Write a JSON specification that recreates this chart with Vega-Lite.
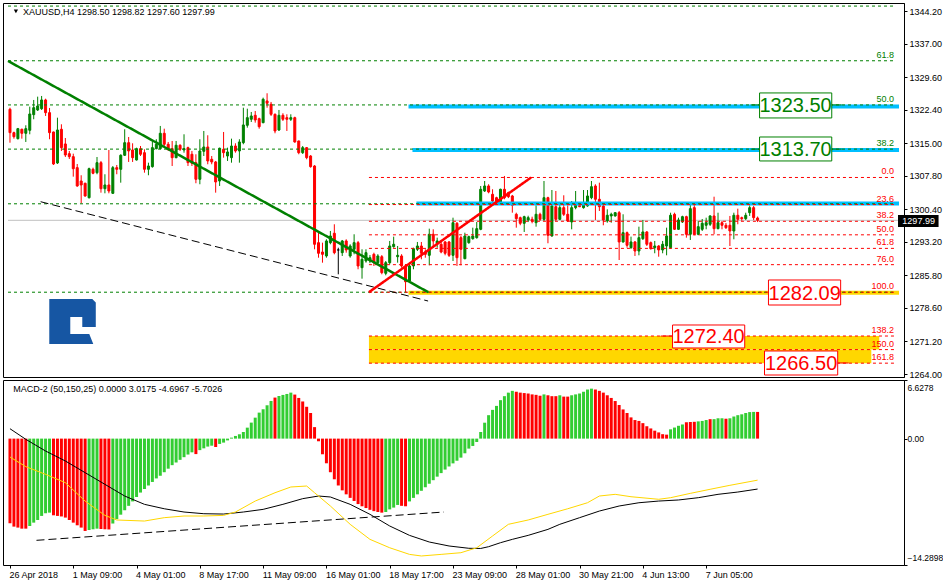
{
"$schema":"https://vega.github.io/schema/vega-lite/v6.json",
"padding":{"left":2,"top":2,"right":0,"bottom":0},
"background":"white",
"spacing":3,
"bounds":"flush",
"config":{"view":{"stroke":"black","strokeWidth":1},"font":"Liberation Sans","axis":{"labelFont":"Liberation Sans","labelFontSize":9,"labelColor":"black","tickColor":"black","domainColor":"black","grid":false,"tickSize":3}},
"datasets":{
"candles":[
{"i":0,"open":1322.54,"high":1322.89,"low":1315.15,"close":1317.37},
{"i":1,"open":1317.37,"high":1317.59,"low":1316.04,"close":1316.48},
{"i":2,"open":1316.04,"high":1318.41,"low":1315.86,"close":1318.25},
{"i":3,"open":1318.12,"high":1318.25,"low":1316.04,"close":1317.23},
{"i":4,"open":1317.23,"high":1319.00,"low":1315.31,"close":1318.25},
{"i":5,"open":1317.90,"high":1323.12,"low":1317.01,"close":1321.50},
{"i":6,"open":1321.35,"high":1324.60,"low":1320.33,"close":1322.89},
{"i":7,"open":1322.39,"high":1325.33,"low":1322.16,"close":1323.27},
{"i":8,"open":1322.67,"high":1325.48,"low":1322.39,"close":1324.60},
{"i":9,"open":1324.60,"high":1324.88,"low":1321.06,"close":1321.79},
{"i":10,"open":1321.79,"high":1322.83,"low":1315.91,"close":1317.37},
{"i":11,"open":1317.52,"high":1317.60,"low":1310.22,"close":1310.44},
{"i":12,"open":1310.67,"high":1320.68,"low":1310.44,"close":1317.96},
{"i":13,"open":1318.12,"high":1319.22,"low":1313.32,"close":1314.05},
{"i":14,"open":1314.87,"high":1316.19,"low":1311.99,"close":1312.43},
{"i":15,"open":1312.72,"high":1313.32,"low":1311.55,"close":1312.06},
{"i":16,"open":1312.06,"high":1312.72,"low":1307.64,"close":1309.40},
{"i":17,"open":1309.63,"high":1310.44,"low":1305.40,"close":1305.58},
{"i":18,"open":1306.68,"high":1307.95,"low":1301.75,"close":1305.80},
{"i":19,"open":1306.18,"high":1306.30,"low":1303.20,"close":1303.37},
{"i":20,"open":1302.99,"high":1309.63,"low":1302.80,"close":1309.40},
{"i":21,"open":1309.27,"high":1309.63,"low":1308.17,"close":1308.39},
{"i":22,"open":1308.52,"high":1311.99,"low":1308.17,"close":1310.73},
{"i":23,"open":1310.73,"high":1311.11,"low":1304.10,"close":1304.98},
{"i":24,"open":1304.98,"high":1308.17,"low":1303.96,"close":1305.80},
{"i":25,"open":1305.80,"high":1313.54,"low":1303.96,"close":1304.47},
{"i":26,"open":1303.96,"high":1310.00,"low":1303.80,"close":1309.63},
{"i":27,"open":1309.63,"high":1310.22,"low":1308.17,"close":1309.27},
{"i":28,"open":1309.27,"high":1312.59,"low":1306.31,"close":1312.37},
{"i":29,"open":1312.37,"high":1318.12,"low":1312.21,"close":1315.15},
{"i":30,"open":1315.15,"high":1316.41,"low":1310.89,"close":1313.32},
{"i":31,"open":1313.54,"high":1315.02,"low":1310.89,"close":1311.84},
{"i":32,"open":1311.33,"high":1314.05,"low":1311.20,"close":1313.83},
{"i":33,"open":1313.83,"high":1314.42,"low":1312.21,"close":1312.59},
{"i":34,"open":1312.94,"high":1313.69,"low":1308.52,"close":1309.27},
{"i":35,"open":1309.27,"high":1310.73,"low":1307.95,"close":1310.00},
{"i":36,"open":1309.85,"high":1315.53,"low":1309.63,"close":1314.05},
{"i":37,"open":1313.83,"high":1315.91,"low":1313.69,"close":1314.80},
{"i":38,"open":1313.83,"high":1318.85,"low":1313.69,"close":1317.23},
{"i":39,"open":1317.23,"high":1318.25,"low":1314.05,"close":1314.80},
{"i":40,"open":1314.80,"high":1315.31,"low":1313.32,"close":1313.69},
{"i":41,"open":1313.83,"high":1315.53,"low":1310.00,"close":1311.84},
{"i":42,"open":1311.84,"high":1315.53,"low":1311.70,"close":1314.58},
{"i":43,"open":1314.58,"high":1314.80,"low":1313.32,"close":1313.69},
{"i":44,"open":1313.54,"high":1317.01,"low":1312.94,"close":1313.83},
{"i":45,"open":1314.05,"high":1314.27,"low":1310.00,"close":1310.73},
{"i":46,"open":1312.59,"high":1313.32,"low":1310.00,"close":1310.60},
{"i":47,"open":1310.73,"high":1312.59,"low":1306.18,"close":1307.06},
{"i":48,"open":1307.06,"high":1315.91,"low":1305.96,"close":1313.32},
{"i":49,"open":1313.25,"high":1317.74,"low":1312.21,"close":1314.20},
{"i":50,"open":1314.20,"high":1316.79,"low":1310.38,"close":1311.11},
{"i":51,"open":1311.48,"high":1312.21,"low":1310.38,"close":1310.89},
{"i":52,"open":1310.89,"high":1311.11,"low":1304.10,"close":1306.46},
{"i":53,"open":1306.68,"high":1314.05,"low":1305.58,"close":1313.92},
{"i":54,"open":1313.69,"high":1317.52,"low":1311.84,"close":1312.94},
{"i":55,"open":1312.21,"high":1314.05,"low":1311.11,"close":1313.10},
{"i":56,"open":1311.84,"high":1316.04,"low":1310.73,"close":1314.42},
{"i":57,"open":1314.42,"high":1315.02,"low":1312.94,"close":1313.32},
{"i":58,"open":1313.32,"high":1315.91,"low":1310.73,"close":1315.31},
{"i":59,"open":1315.15,"high":1322.89,"low":1314.80,"close":1319.07},
{"i":60,"open":1319.00,"high":1322.67,"low":1318.47,"close":1320.68},
{"i":61,"open":1320.33,"high":1321.94,"low":1319.73,"close":1321.06},
{"i":62,"open":1321.21,"high":1322.16,"low":1319.58,"close":1320.17},
{"i":63,"open":1320.46,"high":1320.68,"low":1318.25,"close":1318.69},
{"i":64,"open":1319.58,"high":1325.11,"low":1319.44,"close":1324.75},
{"i":65,"open":1324.38,"high":1326.08,"low":1322.89,"close":1323.87},
{"i":66,"open":1323.65,"high":1324.16,"low":1321.06,"close":1321.43},
{"i":67,"open":1321.43,"high":1321.60,"low":1317.23,"close":1317.74},
{"i":68,"open":1317.96,"high":1322.39,"low":1317.74,"close":1321.21},
{"i":69,"open":1321.21,"high":1321.66,"low":1319.95,"close":1320.33},
{"i":70,"open":1320.68,"high":1321.43,"low":1317.74,"close":1320.33},
{"i":71,"open":1320.33,"high":1321.43,"low":1319.95,"close":1320.68},
{"i":72,"open":1320.68,"high":1320.90,"low":1315.15,"close":1315.31},
{"i":73,"open":1315.53,"high":1315.60,"low":1312.59,"close":1312.94},
{"i":74,"open":1312.94,"high":1314.42,"low":1312.66,"close":1314.05},
{"i":75,"open":1314.05,"high":1314.20,"low":1311.48,"close":1311.84},
{"i":76,"open":1312.21,"high":1312.40,"low":1309.63,"close":1309.85},
{"i":77,"open":1310.00,"high":1310.20,"low":1291.58,"close":1292.69},
{"i":78,"open":1293.04,"high":1295.25,"low":1289.72,"close":1290.70},
{"i":79,"open":1290.98,"high":1293.04,"low":1288.62,"close":1290.47},
{"i":80,"open":1290.10,"high":1293.79,"low":1289.72,"close":1293.42},
{"i":81,"open":1293.04,"high":1295.63,"low":1292.69,"close":1294.52},
{"i":82,"open":1295.12,"high":1297.11,"low":1290.47,"close":1290.83},
{"i":83,"open":1291.43,"high":1291.93,"low":1286.05,"close":1291.43},
{"i":84,"open":1290.83,"high":1293.64,"low":1290.10,"close":1293.42},
{"i":85,"open":1293.42,"high":1293.79,"low":1290.83,"close":1291.43},
{"i":86,"open":1290.10,"high":1292.69,"low":1289.72,"close":1292.31},
{"i":87,"open":1291.58,"high":1294.90,"low":1290.47,"close":1293.04},
{"i":88,"open":1293.04,"high":1293.42,"low":1287.16,"close":1287.89},
{"i":89,"open":1287.51,"high":1291.58,"low":1285.08,"close":1289.37},
{"i":90,"open":1288.99,"high":1291.58,"low":1288.62,"close":1290.83},
{"i":91,"open":1288.99,"high":1290.30,"low":1288.50,"close":1289.72},
{"i":92,"open":1290.47,"high":1290.83,"low":1287.89,"close":1288.62},
{"i":93,"open":1288.62,"high":1290.50,"low":1288.30,"close":1290.10},
{"i":94,"open":1289.94,"high":1290.30,"low":1286.05,"close":1286.41},
{"i":95,"open":1286.27,"high":1288.99,"low":1285.83,"close":1288.62},
{"i":96,"open":1288.62,"high":1293.42,"low":1288.26,"close":1292.31},
{"i":97,"open":1292.16,"high":1294.37,"low":1291.93,"close":1292.69},
{"i":98,"open":1289.94,"high":1292.31,"low":1288.62,"close":1290.25},
{"i":99,"open":1290.10,"high":1290.50,"low":1287.51,"close":1287.89},
{"i":100,"open":1287.89,"high":1288.30,"low":1282.09,"close":1284.40},
{"i":101,"open":1284.57,"high":1288.62,"low":1284.20,"close":1287.89},
{"i":102,"open":1287.89,"high":1291.93,"low":1287.16,"close":1291.71},
{"i":103,"open":1291.58,"high":1293.20,"low":1291.20,"close":1292.31},
{"i":104,"open":1292.31,"high":1293.20,"low":1289.37,"close":1290.70},
{"i":105,"open":1290.98,"high":1291.58,"low":1289.72,"close":1290.47},
{"i":106,"open":1290.25,"high":1296.14,"low":1288.04,"close":1294.90},
{"i":107,"open":1294.90,"high":1296.00,"low":1291.93,"close":1293.42},
{"i":108,"open":1292.91,"high":1294.15,"low":1291.93,"close":1293.42},
{"i":109,"open":1292.69,"high":1293.42,"low":1290.70,"close":1290.98},
{"i":110,"open":1293.20,"high":1293.42,"low":1290.25,"close":1290.70},
{"i":111,"open":1293.20,"high":1293.42,"low":1289.88,"close":1290.25},
{"i":112,"open":1290.25,"high":1298.57,"low":1288.99,"close":1297.46},
{"i":113,"open":1297.33,"high":1297.62,"low":1287.89,"close":1289.72},
{"i":114,"open":1294.15,"high":1294.52,"low":1288.04,"close":1291.58},
{"i":115,"open":1289.50,"high":1295.25,"low":1289.37,"close":1294.52},
{"i":116,"open":1293.04,"high":1294.60,"low":1292.80,"close":1294.37},
{"i":117,"open":1293.93,"high":1296.36,"low":1293.70,"close":1294.52},
{"i":118,"open":1294.15,"high":1297.62,"low":1293.93,"close":1296.14},
{"i":119,"open":1296.00,"high":1305.58,"low":1295.80,"close":1304.85},
{"i":120,"open":1304.47,"high":1306.68,"low":1304.25,"close":1305.58},
{"i":121,"open":1305.58,"high":1305.96,"low":1303.96,"close":1304.25},
{"i":122,"open":1303.74,"high":1304.85,"low":1301.88,"close":1302.26},
{"i":123,"open":1302.99,"high":1303.20,"low":1301.80,"close":1302.04},
{"i":124,"open":1302.04,"high":1304.98,"low":1301.88,"close":1304.85},
{"i":125,"open":1304.85,"high":1307.79,"low":1302.64,"close":1302.99},
{"i":126,"open":1304.10,"high":1304.30,"low":1302.90,"close":1303.21},
{"i":127,"open":1303.37,"high":1303.60,"low":1299.67,"close":1301.31},
{"i":128,"open":1299.32,"high":1299.67,"low":1296.36,"close":1298.35},
{"i":129,"open":1298.57,"high":1298.80,"low":1296.90,"close":1297.33},
{"i":130,"open":1297.33,"high":1299.00,"low":1295.41,"close":1298.79},
{"i":131,"open":1298.06,"high":1299.00,"low":1297.60,"close":1298.57},
{"i":132,"open":1298.21,"high":1298.79,"low":1297.33,"close":1297.84},
{"i":133,"open":1297.46,"high":1301.31,"low":1296.58,"close":1299.32},
{"i":134,"open":1299.32,"high":1299.67,"low":1297.84,"close":1298.21},
{"i":135,"open":1298.21,"high":1306.68,"low":1297.84,"close":1302.99},
{"i":136,"open":1302.99,"high":1303.20,"low":1292.91,"close":1294.68},
{"i":137,"open":1294.52,"high":1304.69,"low":1294.37,"close":1301.16},
{"i":138,"open":1301.00,"high":1304.47,"low":1297.84,"close":1298.21},
{"i":139,"open":1298.21,"high":1301.88,"low":1298.06,"close":1300.78},
{"i":140,"open":1300.78,"high":1303.52,"low":1298.95,"close":1299.32},
{"i":141,"open":1299.32,"high":1301.31,"low":1297.62,"close":1297.84},
{"i":142,"open":1297.62,"high":1302.26,"low":1296.00,"close":1300.78},
{"i":143,"open":1300.78,"high":1304.47,"low":1300.42,"close":1301.53},
{"i":144,"open":1301.31,"high":1301.60,"low":1300.90,"close":1301.00},
{"i":145,"open":1300.78,"high":1304.69,"low":1300.56,"close":1301.88},
{"i":146,"open":1301.16,"high":1304.69,"low":1301.00,"close":1303.37},
{"i":147,"open":1302.99,"high":1306.68,"low":1302.64,"close":1305.42},
{"i":148,"open":1305.58,"high":1305.96,"low":1298.06,"close":1302.64},
{"i":149,"open":1302.64,"high":1306.31,"low":1300.05,"close":1301.00},
{"i":150,"open":1301.16,"high":1301.75,"low":1296.89,"close":1298.06},
{"i":151,"open":1297.84,"high":1300.42,"low":1297.46,"close":1299.10},
{"i":152,"open":1298.95,"high":1299.67,"low":1297.46,"close":1299.32},
{"i":153,"open":1298.95,"high":1299.80,"low":1298.80,"close":1299.67},
{"i":154,"open":1299.67,"high":1300.05,"low":1289.21,"close":1293.20},
{"i":155,"open":1293.20,"high":1299.32,"low":1293.04,"close":1295.25},
{"i":156,"open":1295.25,"high":1295.50,"low":1291.93,"close":1292.46},
{"i":157,"open":1291.93,"high":1294.37,"low":1291.71,"close":1293.20},
{"i":158,"open":1293.20,"high":1293.40,"low":1290.10,"close":1291.20},
{"i":159,"open":1291.20,"high":1296.58,"low":1290.25,"close":1294.15},
{"i":160,"open":1293.93,"high":1298.06,"low":1293.64,"close":1295.41},
{"i":161,"open":1295.41,"high":1295.60,"low":1292.31,"close":1292.69},
{"i":162,"open":1293.04,"high":1293.30,"low":1291.50,"close":1291.71},
{"i":163,"open":1291.93,"high":1293.42,"low":1290.70,"close":1292.31},
{"i":164,"open":1292.31,"high":1292.50,"low":1289.94,"close":1291.43},
{"i":165,"open":1291.43,"high":1293.42,"low":1290.70,"close":1292.69},
{"i":166,"open":1292.31,"high":1296.36,"low":1290.25,"close":1294.52},
{"i":167,"open":1291.93,"high":1299.67,"low":1291.70,"close":1299.10},
{"i":168,"open":1299.32,"high":1299.67,"low":1295.85,"close":1296.00},
{"i":169,"open":1296.00,"high":1298.57,"low":1295.85,"close":1298.06},
{"i":170,"open":1297.62,"high":1299.00,"low":1297.40,"close":1298.79},
{"i":171,"open":1298.79,"high":1299.00,"low":1294.15,"close":1294.90},
{"i":172,"open":1294.90,"high":1301.53,"low":1293.64,"close":1300.56},
{"i":173,"open":1300.78,"high":1301.88,"low":1294.68,"close":1294.90},
{"i":174,"open":1294.90,"high":1297.84,"low":1294.68,"close":1296.58},
{"i":175,"open":1296.00,"high":1298.28,"low":1295.63,"close":1297.33},
{"i":176,"open":1296.89,"high":1298.57,"low":1296.00,"close":1297.46},
{"i":177,"open":1297.11,"high":1299.10,"low":1296.73,"close":1298.95},
{"i":178,"open":1298.95,"high":1303.21,"low":1294.90,"close":1296.14},
{"i":179,"open":1296.14,"high":1299.67,"low":1296.00,"close":1297.46},
{"i":180,"open":1297.46,"high":1297.84,"low":1296.00,"close":1296.89},
{"i":181,"open":1296.89,"high":1297.40,"low":1296.06,"close":1296.36},
{"i":182,"open":1296.89,"high":1298.95,"low":1292.31,"close":1295.63},
{"i":183,"open":1295.63,"high":1299.67,"low":1293.79,"close":1299.10},
{"i":184,"open":1299.10,"high":1300.56,"low":1297.11,"close":1298.21},
{"i":185,"open":1298.57,"high":1298.80,"low":1297.90,"close":1298.35},
{"i":186,"open":1298.35,"high":1299.67,"low":1298.06,"close":1299.10},
{"i":187,"open":1299.67,"high":1301.31,"low":1298.95,"close":1300.78},
{"i":188,"open":1300.78,"high":1301.16,"low":1298.06,"close":1298.57},
{"i":189,"open":1298.50,"high":1298.82,"low":1297.60,"close":1297.99}
],
"macd":[
{"i":0,"h":-9.57,"dir":"down"},{"i":1,"h":-9.95,"dir":"down"},{"i":2,"h":-10.06,"dir":"down"},{"i":3,"h":-10.18,"dir":"down"},{"i":4,"h":-10.18,"dir":"down"},
{"i":5,"h":-9.88,"dir":"up"},{"i":6,"h":-9.5,"dir":"up"},{"i":7,"h":-9.2,"dir":"up"},{"i":8,"h":-8.74,"dir":"up"},{"i":9,"h":-8.44,"dir":"up"},{"i":10,"h":-8.37,"dir":"up"},
{"i":11,"h":-8.67,"dir":"down"},{"i":12,"h":-8.74,"dir":"down"},{"i":13,"h":-8.8,"dir":"down"},{"i":14,"h":-8.93,"dir":"down"},{"i":15,"h":-9.2,"dir":"down"},{"i":16,"h":-9.5,"dir":"down"},{"i":17,"h":-9.8,"dir":"down"},{"i":18,"h":-10.06,"dir":"down"},{"i":19,"h":-10.44,"dir":"down"},
{"i":20,"h":-10.33,"dir":"up"},{"i":21,"h":-10.25,"dir":"up"},{"i":22,"h":-10.18,"dir":"up"},
{"i":23,"h":-10.22,"dir":"down"},{"i":24,"h":-10.25,"dir":"down"},{"i":25,"h":-10.27,"dir":"down"},
{"i":26,"h":-9.6,"dir":"up"},{"i":27,"h":-9.1,"dir":"up"},{"i":28,"h":-8.6,"dir":"up"},{"i":29,"h":-8.1,"dir":"up"},{"i":30,"h":-7.6,"dir":"up"},{"i":31,"h":-7.1,"dir":"up"},{"i":32,"h":-6.6,"dir":"up"},{"i":33,"h":-6.1,"dir":"up"},{"i":34,"h":-5.7,"dir":"up"},{"i":35,"h":-5.3,"dir":"up"},{"i":36,"h":-4.9,"dir":"up"},{"i":37,"h":-4.5,"dir":"up"},{"i":38,"h":-4.2,"dir":"up"},{"i":39,"h":-3.8,"dir":"up"},{"i":40,"h":-3.4,"dir":"up"},{"i":41,"h":-3.0,"dir":"up"},{"i":42,"h":-2.7,"dir":"up"},{"i":43,"h":-2.4,"dir":"up"},{"i":44,"h":-2.1,"dir":"up"},{"i":45,"h":-1.8,"dir":"up"},{"i":46,"h":-1.55,"dir":"up"},
{"i":47,"h":-1.75,"dir":"down"},{"i":48,"h":-1.3,"dir":"up"},{"i":49,"h":-1.1,"dir":"up"},{"i":50,"h":-0.9,"dir":"up"},{"i":51,"h":-0.8,"dir":"up"},{"i":52,"h":-0.95,"dir":"down"},{"i":53,"h":-0.6,"dir":"up"},{"i":54,"h":-0.45,"dir":"up"},{"i":55,"h":-0.2,"dir":"up"},
{"i":56,"h":0.11,"dir":"up"},{"i":57,"h":0.3,"dir":"up"},{"i":58,"h":0.49,"dir":"up"},{"i":59,"h":0.75,"dir":"up"},{"i":60,"h":1.24,"dir":"up"},{"i":61,"h":1.81,"dir":"up"},{"i":62,"h":2.37,"dir":"up"},{"i":63,"h":2.94,"dir":"up"},{"i":64,"h":3.32,"dir":"up"},{"i":65,"h":3.77,"dir":"up"},{"i":66,"h":4.26,"dir":"up"},
{"i":67,"h":4.64,"dir":"down"},{"i":68,"h":4.82,"dir":"up"},{"i":69,"h":4.94,"dir":"up"},{"i":70,"h":5.05,"dir":"up"},{"i":71,"h":5.2,"dir":"up"},
{"i":72,"h":4.98,"dir":"down"},{"i":73,"h":4.6,"dir":"down"},{"i":74,"h":4.2,"dir":"down"},{"i":75,"h":3.6,"dir":"down"},{"i":76,"h":2.9,"dir":"down"},{"i":77,"h":1.3,"dir":"down"},{"i":78,"h":-0.3,"dir":"down"},{"i":79,"h":-1.77,"dir":"down"},{"i":80,"h":-2.79,"dir":"down"},{"i":81,"h":-3.8,"dir":"down"},{"i":82,"h":-4.6,"dir":"down"},{"i":83,"h":-5.3,"dir":"down"},{"i":84,"h":-5.85,"dir":"down"},{"i":85,"h":-6.3,"dir":"down"},{"i":86,"h":-6.7,"dir":"down"},{"i":87,"h":-7.05,"dir":"down"},{"i":88,"h":-7.4,"dir":"down"},{"i":89,"h":-7.65,"dir":"down"},{"i":90,"h":-7.85,"dir":"down"},{"i":91,"h":-8.05,"dir":"down"},{"i":92,"h":-8.2,"dir":"down"},{"i":93,"h":-8.3,"dir":"down"},{"i":94,"h":-8.37,"dir":"down"},
{"i":95,"h":-8.3,"dir":"up"},{"i":96,"h":-8.0,"dir":"up"},{"i":97,"h":-7.8,"dir":"up"},{"i":98,"h":-7.5,"dir":"up"},{"i":99,"h":-7.6,"dir":"down"},{"i":100,"h":-7.65,"dir":"down"},
{"i":101,"h":-7.1,"dir":"up"},{"i":102,"h":-6.7,"dir":"up"},{"i":103,"h":-6.3,"dir":"up"},{"i":104,"h":-5.9,"dir":"up"},{"i":105,"h":-5.5,"dir":"up"},{"i":106,"h":-5.1,"dir":"up"},{"i":107,"h":-4.7,"dir":"up"},{"i":108,"h":-4.3,"dir":"up"},{"i":109,"h":-3.9,"dir":"up"},{"i":110,"h":-3.5,"dir":"up"},{"i":111,"h":-3.15,"dir":"up"},{"i":112,"h":-2.8,"dir":"up"},{"i":113,"h":-2.5,"dir":"up"},{"i":114,"h":-2.15,"dir":"up"},{"i":115,"h":-1.66,"dir":"up"},{"i":116,"h":-1.13,"dir":"up"},{"i":117,"h":-0.83,"dir":"up"},{"i":118,"h":-0.38,"dir":"up"},
{"i":119,"h":0.75,"dir":"up"},{"i":120,"h":1.8,"dir":"up"},{"i":121,"h":2.65,"dir":"up"},{"i":122,"h":3.25,"dir":"up"},{"i":123,"h":3.7,"dir":"up"},{"i":124,"h":4.35,"dir":"up"},{"i":125,"h":4.8,"dir":"up"},{"i":126,"h":5.2,"dir":"up"},{"i":127,"h":5.4,"dir":"up"},
{"i":128,"h":5.3,"dir":"down"},{"i":129,"h":5.2,"dir":"down"},{"i":130,"h":5.15,"dir":"down"},{"i":131,"h":5.1,"dir":"down"},{"i":132,"h":5.0,"dir":"down"},{"i":133,"h":4.95,"dir":"down"},{"i":134,"h":4.85,"dir":"down"},{"i":135,"h":5.0,"dir":"up"},{"i":136,"h":4.9,"dir":"down"},{"i":137,"h":4.8,"dir":"down"},{"i":138,"h":4.8,"dir":"down"},{"i":139,"h":4.9,"dir":"up"},{"i":140,"h":4.75,"dir":"down"},{"i":141,"h":4.75,"dir":"down"},
{"i":142,"h":4.9,"dir":"up"},{"i":143,"h":5.0,"dir":"up"},{"i":144,"h":5.1,"dir":"up"},{"i":145,"h":5.3,"dir":"up"},{"i":146,"h":5.55,"dir":"up"},{"i":147,"h":5.65,"dir":"up"},
{"i":148,"h":5.55,"dir":"down"},{"i":149,"h":5.4,"dir":"down"},{"i":150,"h":5.2,"dir":"down"},{"i":151,"h":4.9,"dir":"down"},{"i":152,"h":4.6,"dir":"down"},{"i":153,"h":4.25,"dir":"down"},{"i":154,"h":3.8,"dir":"down"},{"i":155,"h":3.3,"dir":"down"},{"i":156,"h":2.9,"dir":"down"},{"i":157,"h":2.4,"dir":"down"},{"i":158,"h":2.1,"dir":"down"},{"i":159,"h":2.0,"dir":"down"},{"i":160,"h":1.75,"dir":"down"},{"i":161,"h":1.4,"dir":"down"},{"i":162,"h":1.15,"dir":"down"},{"i":163,"h":0.9,"dir":"down"},{"i":164,"h":0.7,"dir":"down"},{"i":165,"h":0.5,"dir":"down"},{"i":166,"h":0.45,"dir":"down"},
{"i":167,"h":1.05,"dir":"up"},{"i":168,"h":1.25,"dir":"up"},{"i":169,"h":1.45,"dir":"up"},{"i":170,"h":1.6,"dir":"up"},{"i":171,"h":1.85,"dir":"down"},{"i":172,"h":1.88,"dir":"down"},{"i":173,"h":1.9,"dir":"down"},{"i":174,"h":1.95,"dir":"up"},{"i":175,"h":2.0,"dir":"up"},{"i":176,"h":2.1,"dir":"up"},{"i":177,"h":2.2,"dir":"down"},{"i":178,"h":2.2,"dir":"up"},{"i":179,"h":2.3,"dir":"up"},{"i":180,"h":2.3,"dir":"up"},{"i":181,"h":2.25,"dir":"down"},{"i":182,"h":2.3,"dir":"up"},{"i":183,"h":2.5,"dir":"up"},{"i":184,"h":2.65,"dir":"up"},{"i":185,"h":2.75,"dir":"up"},{"i":186,"h":2.9,"dir":"up"},{"i":187,"h":3.0,"dir":"up"},{"i":188,"h":3.02,"dir":"up"},{"i":189,"h":3.0175,"dir":"down"}
],
"macdLine":[
{"i":0,"v":1.12},{"i":4,"v":-0.08},{"i":9,"v":-1.4},{"i":14,"v":-2.53},{"i":19,"v":-3.85},{"i":24,"v":-5.17},{"i":29,"v":-6.49},{"i":34,"v":-7.43},{"i":39,"v":-7.93},{"i":44,"v":-8.3},{"i":49,"v":-8.49},{"i":54,"v":-8.53},{"i":59,"v":-8.3},{"i":64,"v":-8.0},{"i":69,"v":-7.43},{"i":74,"v":-6.79},{"i":78,"v":-6.49},{"i":81,"v":-6.6},{"i":86,"v":-7.43},{"i":91,"v":-8.56},{"i":96,"v":-9.88},{"i":101,"v":-10.94},{"i":106,"v":-11.69},{"i":111,"v":-12.14},{"i":116,"v":-12.4},{"i":119,"v":-12.42},{"i":121,"v":-12.22},{"i":124,"v":-11.77},{"i":127,"v":-11.39},{"i":131,"v":-10.94},{"i":136,"v":-10.26},{"i":139,"v":-9.69},{"i":144,"v":-8.94},{"i":149,"v":-8.19},{"i":154,"v":-7.62},{"i":159,"v":-7.25},{"i":164,"v":-7.06},{"i":169,"v":-6.94},{"i":174,"v":-6.68},{"i":179,"v":-6.3},{"i":184,"v":-6.04},{"i":189,"v":-5.7026}
],
"signal":[
{"i":0,"v":-2.08},{"i":4,"v":-3.17},{"i":9,"v":-4.04},{"i":14,"v":-4.98},{"i":19,"v":-7.06},{"i":24,"v":-8.68},{"i":27,"v":-9.2},{"i":34,"v":-9.32},{"i":39,"v":-8.94},{"i":44,"v":-8.75},{"i":49,"v":-8.75},{"i":54,"v":-8.68},{"i":57,"v":-8.3},{"i":62,"v":-7.06},{"i":67,"v":-6.12},{"i":71,"v":-5.47},{"i":75,"v":-5.36},{"i":77,"v":-6.12},{"i":81,"v":-7.62},{"i":86,"v":-9.69},{"i":91,"v":-11.39},{"i":96,"v":-12.34},{"i":101,"v":-13.09},{"i":104,"v":-13.27},{"i":109,"v":-13.09},{"i":114,"v":-12.9},{"i":118,"v":-12.34},{"i":122,"v":-11.01},{"i":126,"v":-9.69},{"i":131,"v":-9.2},{"i":136,"v":-8.56},{"i":141,"v":-7.93},{"i":146,"v":-7.25},{"i":149,"v":-6.49},{"i":153,"v":-6.3},{"i":157,"v":-6.57},{"i":164,"v":-6.86},{"i":167,"v":-6.68},{"i":172,"v":-6.19},{"i":177,"v":-5.73},{"i":182,"v":-5.28},{"i":189,"v":-4.6967}
],
"levels":[
{"set":"green","level":"","price":1345.36,"x1":-0.5,"x2":223.5},
{"set":"green","level":"61.8","price":1333.27,"x1":-0.5,"x2":223.5},
{"set":"green","level":"50.0","price":1323.5,"x1":-0.5,"x2":223.5},
{"set":"green","level":"38.2","price":1313.73,"x1":-0.5,"x2":223.5},
{"set":"green","level":"","price":1301.64,"x1":-0.5,"x2":223.5},
{"set":"green","level":"","price":1282.09,"x1":-0.5,"x2":223.5},
{"set":"red","level":"0.0","price":1307.46,"x1":90.75,"x2":223.5},
{"set":"red","level":"23.6","price":1301.47,"x1":90.75,"x2":223.5},
{"set":"red","level":"38.2","price":1297.77,"x1":90.75,"x2":223.5},
{"set":"red","level":"50.0","price":1294.78,"x1":90.75,"x2":223.5},
{"set":"red","level":"61.8","price":1291.78,"x1":90.75,"x2":223.5},
{"set":"red","level":"76.0","price":1288.18,"x1":90.75,"x2":223.5},
{"set":"red","level":"100.0","price":1282.09,"x1":90.75,"x2":223.5},
{"set":"red","level":"138.2","price":1272.4,"x1":90.75,"x2":223.5},
{"set":"red","level":"150.0","price":1269.4,"x1":90.75,"x2":223.5},
{"set":"red","level":"161.8","price":1266.4,"x1":90.75,"x2":223.5}
],
"zones":[
{"x1":90.75,"x2":219.75,"p1":1269.4,"p2":1272.4},
{"x1":90.75,"x2":217.75,"p1":1266.39,"p2":1269.4}
],
"bands":[
{"kind":"blue","price":1323.15,"x1":100.75,"x2":224.75},
{"kind":"blue","price":1313.54,"x1":101.75,"x2":224.75},
{"kind":"blue","price":1301.71,"x1":102.75,"x2":224.75},
{"kind":"yellow","price":1281.95,"x1":100.75,"x2":224.75}
],
"stubs":[
{"tone":"green","price":1323.5,"x1":187.25,"x2":189.5},
{"tone":"green","price":1323.5,"x1":207.75,"x2":210.25},
{"tone":"green","price":1313.73,"x1":187.25,"x2":189.5},
{"tone":"green","price":1313.73,"x1":207.75,"x2":210.25},
{"tone":"red","price":1272.4,"x1":164.5,"x2":167.5},
{"tone":"red","price":1266.44,"x1":209.25,"x2":212.0}
],
"trends":[
{"name":"down","x1":-0.5,"p1":1333.22,"x2":105.75,"p2":1282.09},
{"name":"support","x1":7.75,"p1":1302.1,"x2":105.7,"p2":1280.14},
{"name":"up","x1":90.75,"p1":1282.09,"x2":131.75,"p2":1307.46}
],
"boxes":[
{"text":"1323.50","tone":"green","x1":189.5,"x2":207.75,"p1":1320.62,"p2":1326.15,"xc":198.6,"pc":1323.38},
{"text":"1313.70","tone":"green","x1":189.5,"x2":207.75,"p1":1311.11,"p2":1316.41,"xc":198.6,"pc":1313.76},
{"text":"1282.09","tone":"red","x1":191.75,"x2":210.0,"p1":1279.26,"p2":1284.79,"xc":200.9,"pc":1282.02},
{"text":"1272.40","tone":"red","x1":167.5,"x2":185.75,"p1":1269.76,"p2":1274.84,"xc":176.6,"pc":1272.3},
{"text":"1266.50","tone":"red","x1":190.75,"x2":209.25,"p1":1263.78,"p2":1269.09,"xc":200.0,"pc":1266.44}
]
},
"vconcat":[
{
"width":901,"height":374,
"layer":[
{"data":{"name":"zones"},"mark":{"type":"rect","fill":"#FFD700"},
 "encoding":{"x":{"field":"x1","type":"quantitative","scale":{"domain":[-0.5,224.75],"nice":false,"zero":false},"axis":null},"x2":{"field":"x2"},
 "y":{"field":"p1","type":"quantitative","scale":{"domain":[1263.34,1346.04],"nice":false,"zero":false},"axis":{"orient":"right","values":[1264.0,1271.2,1278.6,1285.8,1293.2,1300.4,1307.8,1315.0,1322.4,1329.6,1337.0,1344.2],"format":".2f","labelPadding":2,"title":null}},"y2":{"field":"p2"}}},
{"data":{"values":[{"price":1297.99,"x1":-0.5,"x2":224.75}]},"mark":{"type":"rule","color":"#C0C0C0","strokeWidth":1},
 "encoding":{"x":{"field":"x1","type":"quantitative","scale":{"domain":[-0.5,224.75],"nice":false,"zero":false},"axis":null},"x2":{"field":"x2"},
 "y":{"field":"price","type":"quantitative","scale":{"domain":[1263.34,1346.04],"nice":false,"zero":false},"axis":{"orient":"right","values":[1264.0,1271.2,1278.6,1285.8,1293.2,1300.4,1307.8,1315.0,1322.4,1329.6,1337.0,1344.2],"format":".2f","labelPadding":2,"title":null}}}},
{"data":{"values":[{"i":15.75,"p":1275.61}]},"mark":{"type":"point","filled":true,"opacity":1,"color":"#1656a3","shape":"M-1,-0.978L0.87,-0.978L1.022,-0.826L1.022,0.239L0.435,0.239L0.435,-0.196L-0.087,-0.196L-0.087,0.978L-1,0.978Z M-0.087,0.543L0.739,0.543L0.913,0.978L-0.087,0.978Z","size":2116},
 "encoding":{"x":{"field":"i","type":"quantitative","scale":{"domain":[-0.5,224.75],"nice":false,"zero":false},"axis":null},
 "y":{"field":"p","type":"quantitative","scale":{"domain":[1263.34,1346.04],"nice":false,"zero":false},"axis":{"orient":"right","values":[1264.0,1271.2,1278.6,1285.8,1293.2,1300.4,1307.8,1315.0,1322.4,1329.6,1337.0,1344.2],"format":".2f","labelPadding":2,"title":null}}}},
{"data":{"name":"candles"},"mark":{"type":"rule","strokeWidth":1},
 "encoding":{"x":{"field":"i","type":"quantitative","scale":{"domain":[-0.5,224.75],"nice":false,"zero":false},"axis":null},
 "y":{"field":"low","type":"quantitative","scale":{"domain":[1263.34,1346.04],"nice":false,"zero":false},"axis":{"orient":"right","values":[1264.0,1271.2,1278.6,1285.8,1293.2,1300.4,1307.8,1315.0,1322.4,1329.6,1337.0,1344.2],"format":".2f","labelPadding":2,"title":null}},"y2":{"field":"high"},
 "color":{"condition":[{"test":"datum.close == datum.open","value":"black"},{"test":"datum.close > datum.open","value":"#008000"}],"value":"#FF0000"}}},
{"data":{"name":"candles"},"mark":{"type":"bar","width":2,"strokeWidth":1},
 "encoding":{"x":{"field":"i","type":"quantitative","scale":{"domain":[-0.5,224.75],"nice":false,"zero":false},"axis":null},
 "y":{"field":"open","type":"quantitative","scale":{"domain":[1263.34,1346.04],"nice":false,"zero":false},"axis":{"orient":"right","values":[1264.0,1271.2,1278.6,1285.8,1293.2,1300.4,1307.8,1315.0,1322.4,1329.6,1337.0,1344.2],"format":".2f","labelPadding":2,"title":null}},"y2":{"field":"close"},
 "fill":{"condition":[{"test":"datum.close == datum.open","value":"black"},{"test":"datum.close > datum.open","value":"#008000"}],"value":"#FF0000"},
 "stroke":{"condition":[{"test":"datum.close == datum.open","value":"black"},{"test":"datum.close > datum.open","value":"#008000"}],"value":"#FF0000"}}},
{"data":{"name":"bands"},"mark":{"type":"rule","strokeWidth":4},
 "encoding":{"x":{"field":"x1","type":"quantitative","scale":{"domain":[-0.5,224.75],"nice":false,"zero":false},"axis":null},"x2":{"field":"x2"},
 "y":{"field":"price","type":"quantitative","scale":{"domain":[1263.34,1346.04],"nice":false,"zero":false},"axis":{"orient":"right","values":[1264.0,1271.2,1278.6,1285.8,1293.2,1300.4,1307.8,1315.0,1322.4,1329.6,1337.0,1344.2],"format":".2f","labelPadding":2,"title":null}},
 "color":{"condition":{"test":"datum.kind == 'blue'","value":"#00BFFF"},"value":"#FFD700"}}},
{"data":{"name":"levels"},"mark":{"type":"rule","strokeWidth":1,"strokeDash":[3,3]},
 "encoding":{"x":{"field":"x1","type":"quantitative","scale":{"domain":[-0.5,224.75],"nice":false,"zero":false},"axis":null},"x2":{"field":"x2"},
 "y":{"field":"price","type":"quantitative","scale":{"domain":[1263.34,1346.04],"nice":false,"zero":false},"axis":{"orient":"right","values":[1264.0,1271.2,1278.6,1285.8,1293.2,1300.4,1307.8,1315.0,1322.4,1329.6,1337.0,1344.2],"format":".2f","labelPadding":2,"title":null}},
 "color":{"condition":{"test":"datum.set == 'green'","value":"#008000"},"value":"#FF0000"}}},
{"data":{"name":"stubs"},"mark":{"type":"rule","strokeWidth":1},
 "encoding":{"x":{"field":"x1","type":"quantitative","scale":{"domain":[-0.5,224.75],"nice":false,"zero":false},"axis":null},"x2":{"field":"x2"},
 "y":{"field":"price","type":"quantitative","scale":{"domain":[1263.34,1346.04],"nice":false,"zero":false},"axis":{"orient":"right","values":[1264.0,1271.2,1278.6,1285.8,1293.2,1300.4,1307.8,1315.0,1322.4,1329.6,1337.0,1344.2],"format":".2f","labelPadding":2,"title":null}},
 "color":{"condition":{"test":"datum.tone == 'green'","value":"#008000"},"value":"#FF0000"}}},
{"data":{"name":"levels"},"transform":[{"filter":"datum.level != ''"}],"mark":{"type":"text","align":"right","baseline":"bottom","dy":-1,"fontSize":9,"font":"Liberation Sans"},
 "encoding":{"x":{"field":"x2","type":"quantitative","scale":{"domain":[-0.5,224.75],"nice":false,"zero":false},"axis":null},
 "y":{"field":"price","type":"quantitative","scale":{"domain":[1263.34,1346.04],"nice":false,"zero":false},"axis":{"orient":"right","values":[1264.0,1271.2,1278.6,1285.8,1293.2,1300.4,1307.8,1315.0,1322.4,1329.6,1337.0,1344.2],"format":".2f","labelPadding":2,"title":null}},
 "text":{"field":"level"},
 "color":{"condition":{"test":"datum.set == 'green'","value":"#008000"},"value":"#FF0000"}}},
{"data":{"name":"trends"},"mark":{"type":"rule"},
 "encoding":{"x":{"field":"x1","type":"quantitative","scale":{"domain":[-0.5,224.75],"nice":false,"zero":false},"axis":null},"x2":{"field":"x2"},
 "y":{"field":"p1","type":"quantitative","scale":{"domain":[1263.34,1346.04],"nice":false,"zero":false},"axis":{"orient":"right","values":[1264.0,1271.2,1278.6,1285.8,1293.2,1300.4,1307.8,1315.0,1322.4,1329.6,1337.0,1344.2],"format":".2f","labelPadding":2,"title":null}},"y2":{"field":"p2"},
 "color":{"condition":[{"test":"datum.name == 'down'","value":"#008000"},{"test":"datum.name == 'up'","value":"#FF0000"}],"value":"#000000"},
 "strokeWidth":{"condition":{"test":"datum.name == 'support'","value":1},"value":2.5},
 "strokeDash":{"condition":{"test":"datum.name == 'support'","value":[8,4]},"value":[1,0]}}},
{"data":{"name":"boxes"},"mark":{"type":"rect","fill":"white","strokeWidth":1},
 "encoding":{"x":{"field":"x1","type":"quantitative","scale":{"domain":[-0.5,224.75],"nice":false,"zero":false},"axis":null},"x2":{"field":"x2"},
 "y":{"field":"p1","type":"quantitative","scale":{"domain":[1263.34,1346.04],"nice":false,"zero":false},"axis":{"orient":"right","values":[1264.0,1271.2,1278.6,1285.8,1293.2,1300.4,1307.8,1315.0,1322.4,1329.6,1337.0,1344.2],"format":".2f","labelPadding":2,"title":null}},"y2":{"field":"p2"},
 "stroke":{"condition":{"test":"datum.tone == 'green'","value":"#008000"},"value":"#FF0000"}}},
{"data":{"name":"boxes"},"mark":{"type":"text","align":"center","baseline":"middle","fontSize":20,"font":"Liberation Sans","dy":1},
 "encoding":{"x":{"field":"xc","type":"quantitative","scale":{"domain":[-0.5,224.75],"nice":false,"zero":false},"axis":null},
 "y":{"field":"pc","type":"quantitative","scale":{"domain":[1263.34,1346.04],"nice":false,"zero":false},"axis":{"orient":"right","values":[1264.0,1271.2,1278.6,1285.8,1293.2,1300.4,1307.8,1315.0,1322.4,1329.6,1337.0,1344.2],"format":".2f","labelPadding":2,"title":null}},
 "text":{"field":"text"},
 "color":{"condition":{"test":"datum.tone == 'green'","value":"#008000"},"value":"#FF0000"}}},
{"data":{"values":[{"x1":224.5,"x2":234.75,"p1":1296.51,"p2":1299.16}]},"mark":{"type":"rect","fill":"black"},
 "encoding":{"x":{"field":"x1","type":"quantitative","scale":{"domain":[-0.5,224.75],"nice":false,"zero":false},"axis":null},"x2":{"field":"x2"},
 "y":{"field":"p1","type":"quantitative","scale":{"domain":[1263.34,1346.04],"nice":false,"zero":false},"axis":{"orient":"right","values":[1264.0,1271.2,1278.6,1285.8,1293.2,1300.4,1307.8,1315.0,1322.4,1329.6,1337.0,1344.2],"format":".2f","labelPadding":2,"title":null}},"y2":{"field":"p2"}}},
{"data":{"values":[{"i":225.6,"p":1297.85,"t":"1297.99"},{"i":3.3,"p":1344.05,"t":"XAUUSD,H4  1298.50 1298.82 1297.60 1297.99"}]},"mark":{"type":"text","align":"left","baseline":"middle","fontSize":9,"font":"Liberation Sans"},
 "encoding":{"x":{"field":"i","type":"quantitative","scale":{"domain":[-0.5,224.75],"nice":false,"zero":false},"axis":null},
 "y":{"field":"p","type":"quantitative","scale":{"domain":[1263.34,1346.04],"nice":false,"zero":false},"axis":{"orient":"right","values":[1264.0,1271.2,1278.6,1285.8,1293.2,1300.4,1307.8,1315.0,1322.4,1329.6,1337.0,1344.2],"format":".2f","labelPadding":2,"title":null}},
 "text":{"field":"t"},
 "color":{"condition":{"test":"datum.i > 200","value":"white"},"value":"black"}}},
{"data":{"values":[{"i":1.5,"p":1344.2}]},"mark":{"type":"point","shape":"triangle-down","filled":true,"size":18,"color":"black","opacity":1},
 "encoding":{"x":{"field":"i","type":"quantitative","scale":{"domain":[-0.5,224.75],"nice":false,"zero":false},"axis":null},
 "y":{"field":"p","type":"quantitative","scale":{"domain":[1263.34,1346.04],"nice":false,"zero":false},"axis":{"orient":"right","values":[1264.0,1271.2,1278.6,1285.8,1293.2,1300.4,1307.8,1315.0,1322.4,1329.6,1337.0,1344.2],"format":".2f","labelPadding":2,"title":null}}}}
]
},
{
"width":901,"height":185,
"layer":[
{"data":{"name":"macd"},"mark":{"type":"bar","width":3},
 "encoding":{"x":{"field":"i","type":"quantitative","scale":{"domain":[-0.5,224.75],"nice":false,"zero":false},"axis":{"orient":"bottom","values":[0,16,32,48,64,80,96,112,128,144,160,176],"labelExpr":"['26 Apr 2018','1 May 09:00','4 May 01:00','8 May 17:00','11 May 09:00','16 May 01:00','18 May 17:00','23 May 09:00','28 May 01:00','30 May 21:00','4 Jun 13:00','7 Jun 05:00'][round(datum.value/16)]","labelAlign":"left","labelOffset":-1,"labelPadding":2,"domain":false,"labelOverlap":false,"labelFlush":false,"title":null}},
 "y":{"field":"h","type":"quantitative","scale":{"domain":[-14.2898,6.6278],"nice":false,"zero":false},"axis":{"orient":"right","values":[6.6278,0,-14.2898],"labelExpr":"datum.value == 0 ? '0.00' : format(datum.value, '.4f')","labelFlush":true,"labelFlushOffset":-3,"labelPadding":0,"labelFontSize":8.5,"title":null}},
 "y2":{"datum":0},
 "color":{"condition":{"test":"datum.dir == 'up'","value":"#32CD32"},"value":"#FF0000"}}},
{"data":{"name":"macdLine"},"mark":{"type":"line","color":"black","strokeWidth":1},
 "encoding":{"x":{"field":"i","type":"quantitative","scale":{"domain":[-0.5,224.75],"nice":false,"zero":false},"axis":{"orient":"bottom","values":[0,16,32,48,64,80,96,112,128,144,160,176],"labelExpr":"['26 Apr 2018','1 May 09:00','4 May 01:00','8 May 17:00','11 May 09:00','16 May 01:00','18 May 17:00','23 May 09:00','28 May 01:00','30 May 21:00','4 Jun 13:00','7 Jun 05:00'][round(datum.value/16)]","labelAlign":"left","labelOffset":-1,"labelPadding":2,"domain":false,"labelOverlap":false,"labelFlush":false,"title":null}},
 "y":{"field":"v","type":"quantitative","scale":{"domain":[-14.2898,6.6278],"nice":false,"zero":false},"axis":{"orient":"right","values":[6.6278,0,-14.2898],"labelExpr":"datum.value == 0 ? '0.00' : format(datum.value, '.4f')","labelFlush":true,"labelFlushOffset":-3,"labelPadding":0,"labelFontSize":8.5,"title":null}}}},
{"data":{"name":"signal"},"mark":{"type":"line","color":"#FFD700","strokeWidth":1},
 "encoding":{"x":{"field":"i","type":"quantitative","scale":{"domain":[-0.5,224.75],"nice":false,"zero":false},"axis":{"orient":"bottom","values":[0,16,32,48,64,80,96,112,128,144,160,176],"labelExpr":"['26 Apr 2018','1 May 09:00','4 May 01:00','8 May 17:00','11 May 09:00','16 May 01:00','18 May 17:00','23 May 09:00','28 May 01:00','30 May 21:00','4 Jun 13:00','7 Jun 05:00'][round(datum.value/16)]","labelAlign":"left","labelOffset":-1,"labelPadding":2,"domain":false,"labelOverlap":false,"labelFlush":false,"title":null}},
 "y":{"field":"v","type":"quantitative","scale":{"domain":[-14.2898,6.6278],"nice":false,"zero":false},"axis":{"orient":"right","values":[6.6278,0,-14.2898],"labelExpr":"datum.value == 0 ? '0.00' : format(datum.value, '.4f')","labelFlush":true,"labelFlushOffset":-3,"labelPadding":0,"labelFontSize":8.5,"title":null}}}},
{"data":{"values":[{"x1":6.7,"v1":-11.5,"x2":109.7,"v2":-8.3}]},"mark":{"type":"rule","color":"black","strokeWidth":1,"strokeDash":[8,4]},
 "encoding":{"x":{"field":"x1","type":"quantitative","scale":{"domain":[-0.5,224.75],"nice":false,"zero":false},"axis":{"orient":"bottom","values":[0,16,32,48,64,80,96,112,128,144,160,176],"labelExpr":"['26 Apr 2018','1 May 09:00','4 May 01:00','8 May 17:00','11 May 09:00','16 May 01:00','18 May 17:00','23 May 09:00','28 May 01:00','30 May 21:00','4 Jun 13:00','7 Jun 05:00'][round(datum.value/16)]","labelAlign":"left","labelOffset":-1,"labelPadding":2,"domain":false,"labelOverlap":false,"labelFlush":false,"title":null}},"x2":{"field":"x2"},
 "y":{"field":"v1","type":"quantitative","scale":{"domain":[-14.2898,6.6278],"nice":false,"zero":false},"axis":{"orient":"right","values":[6.6278,0,-14.2898],"labelExpr":"datum.value == 0 ? '0.00' : format(datum.value, '.4f')","labelFlush":true,"labelFlushOffset":-3,"labelPadding":0,"labelFontSize":8.5,"title":null}},"y2":{"field":"v2"}}},
{"data":{"values":[{"i":0.8,"v":5.64,"t":"MACD-2 (50,150,25) 0.0000 3.0175 -4.6967 -5.7026"}]},"mark":{"type":"text","align":"left","baseline":"middle","fontSize":9,"font":"Liberation Sans","color":"black"},
 "encoding":{"x":{"field":"i","type":"quantitative","scale":{"domain":[-0.5,224.75],"nice":false,"zero":false},"axis":{"orient":"bottom","values":[0,16,32,48,64,80,96,112,128,144,160,176],"labelExpr":"['26 Apr 2018','1 May 09:00','4 May 01:00','8 May 17:00','11 May 09:00','16 May 01:00','18 May 17:00','23 May 09:00','28 May 01:00','30 May 21:00','4 Jun 13:00','7 Jun 05:00'][round(datum.value/16)]","labelAlign":"left","labelOffset":-1,"labelPadding":2,"domain":false,"labelOverlap":false,"labelFlush":false,"title":null}},
 "y":{"field":"v","type":"quantitative","scale":{"domain":[-14.2898,6.6278],"nice":false,"zero":false},"axis":{"orient":"right","values":[6.6278,0,-14.2898],"labelExpr":"datum.value == 0 ? '0.00' : format(datum.value, '.4f')","labelFlush":true,"labelFlushOffset":-3,"labelPadding":0,"labelFontSize":8.5,"title":null}},
 "text":{"field":"t"}}}
]
}
]
}
